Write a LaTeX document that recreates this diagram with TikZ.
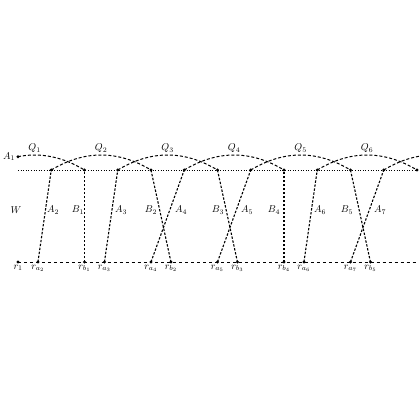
\documentclass[tikz,border=0pt]{standalone}
\usetikzlibrary{calc}
\begin{document}
\begin{tikzpicture}[x=1bp,y=1bp,
  dot/.style={circle,fill=black,inner sep=0pt,minimum size=3.2bp},
  ln/.style={dash pattern=on 2.4bp off 1.6bp,line width=1.1bp},
  arcln/.style={dash pattern=on 3bp off 2bp,line width=1bp},
  lbl/.style={inner sep=1pt},
  blbl/.style={inner sep=1pt,anchor=north}]
\useasboundingbox (0,0) rectangle (420,-420);
\clip (0,0) rectangle (420,-420);
\def\u{33.25}
% top dotted line
\coordinate (tl) at (18,-170);
\coordinate (tr) at (417,-170);
\draw[dotted,line width=0.6bp] (tl) -- (tr);
\foreach \k in {1,...,12} \node[dot] (t\k) at ({18+\k*\u},-170) {};
\coordinate (t14) at ({18+14*\u},-170);
% bottom dashed line
\node[dot] (r1) at (18,-262) {};
\coordinate (br) at (417,-262);
\draw[dashed,line width=0.7bp] (r1.center) -- (br);
\node[dot] (ra2) at ({18+0.6*\u},-262) {};
\node[dot] (rb1) at ({18+2*\u},-262) {};
\node[dot] (ra3) at ({18+2.6*\u},-262) {};
\node[dot] (ra4) at ({18+4*\u},-262) {};
\node[dot] (rb2) at ({18+4.6*\u},-262) {};
\node[dot] (ra5) at ({18+6*\u},-262) {};
\node[dot] (rb3) at ({18+6.6*\u},-262) {};
\node[dot] (rb4) at ({18+8*\u},-262) {};
\node[dot] (ra6) at ({18+8.6*\u},-262) {};
\node[dot] (ra7) at ({18+10*\u},-262) {};
\node[dot] (rb5) at ({18+10.6*\u},-262) {};
% bottom labels
\node[blbl] at (r1.south) {$r_1$};
\node[blbl] at (ra2.south) {$r_{a_2}$};
\node[blbl] at (rb1.south) {$r_{b_1}$};
\node[blbl] at (ra3.south) {$r_{a_3}$};
\node[blbl] at (ra4.south) {$r_{a_4}$};
\node[blbl] at (rb2.south) {$r_{b_2}$};
\node[blbl] at (ra5.south) {$r_{a_5}$};
\node[blbl] at (rb3.south) {$r_{b_3}$};
\node[blbl] at (rb4.south) {$r_{b_4}$};
\node[blbl] at (ra6.south) {$r_{a_6}$};
\node[blbl] at (ra7.south) {$r_{a_7}$};
\node[blbl] at (rb5.south) {$r_{b_5}$};
% side lines
\draw[ln] (ra2.center) -- (t1.center);
\draw[ln] (rb1.center) -- (t2.center);
\draw[ln] (ra3.center) -- (t3.center);
\draw[ln] (t4.center) -- (rb2.center);
\draw[ln] (ra4.center) -- (t5.center);
\draw[ln] (t6.center) -- (rb3.center);
\draw[ln] (ra5.center) -- (t7.center);
\draw[ln] (rb4.center) -- (t8.center);
\draw[ln] (ra6.center) -- (t9.center);
\draw[ln] (t10.center) -- (rb5.center);
\draw[ln] (ra7.center) -- (t11.center);
% side labels
\node[lbl] at (16,-210) {$W$};
\node[lbl] at (53,-210) {$A_2$};
\node[lbl] at (78,-210) {$B_1$};
\node[lbl] at (121,-210) {$A_3$};
\node[lbl] at (151,-210) {$B_2$};
\node[lbl] at (181,-210) {$A_4$};
\node[lbl] at (218,-210) {$B_3$};
\node[lbl] at (247,-210) {$A_5$};
\node[lbl] at (274,-210) {$B_4$};
\node[lbl] at (320,-210) {$A_6$};
\node[lbl] at (347,-210) {$B_5$};
\node[lbl] at (380,-210) {$A_7$};
% arcs
\node[dot] (A1) at (18,{-170+40/3}) {};
\node[lbl,anchor=east] at (A1.west) {$A_1$};
\draw[arcln] (A1.center) .. controls ($(A1)+({0.667*\u},4.444)$) and ($(t2)+({-0.667*\u},13.333)$) .. (t2.center);
\draw[arcln] (t1.center) .. controls ($(t1)+(\u,20)$) and ($(t4)+(-\u,20)$) .. (t4.center);
\draw[arcln] (t3.center) .. controls ($(t3)+(\u,20)$) and ($(t6)+(-\u,20)$) .. (t6.center);
\draw[arcln] (t5.center) .. controls ($(t5)+(\u,20)$) and ($(t8)+(-\u,20)$) .. (t8.center);
\draw[arcln] (t7.center) .. controls ($(t7)+(\u,20)$) and ($(t10)+(-\u,20)$) .. (t10.center);
\draw[arcln] (t9.center) .. controls ($(t9)+(\u,20)$) and ($(t12)+(-\u,20)$) .. (t12.center);
\draw[arcln] (t11.center) .. controls ($(t11)+(\u,20)$) and ($(t14)+(-\u,20)$) .. (t14);
% arc labels
\node[lbl,anchor=south] at ({18+0.5*\u},-154) {$Q_1$};
\node[lbl,anchor=south] at ({18+2.5*\u},-154) {$Q_2$};
\node[lbl,anchor=south] at ({18+4.5*\u},-154) {$Q_3$};
\node[lbl,anchor=south] at ({18+6.5*\u},-154) {$Q_4$};
\node[lbl,anchor=south] at ({18+8.5*\u},-154) {$Q_5$};
\node[lbl,anchor=south] at ({18+10.5*\u},-154) {$Q_6$};
\end{tikzpicture}
\end{document}
